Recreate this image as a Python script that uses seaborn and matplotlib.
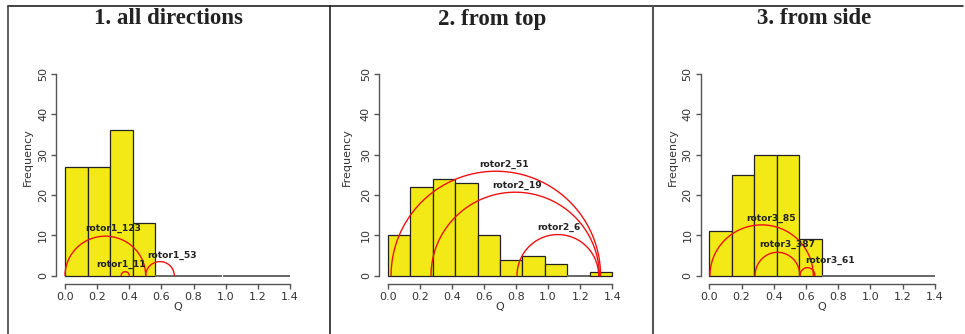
import numpy as np
import pandas as pd
import matplotlib
matplotlib.use("Agg")
import matplotlib.pyplot as plt
from matplotlib.lines import Line2D
import seaborn as sns

# ---- data ----
titles = ["1. all directions", "2. from top", "3. from side"]
bin_edges = [0.0, 0.14, 0.28, 0.42, 0.56, 0.70, 0.84, 0.98, 1.12, 1.26, 1.40]
counts_1 = [27, 27, 36, 13, 0, 0, 0, 0, 0, 0]
counts_2 = [10, 22, 24, 23, 10, 4, 5, 3, 0, 1]
counts_3 = [11, 25, 30, 30, 9, 0, 0, 0, 0, 0]

# arcs: name, start Q, end Q, height, label x, label y
arc_names_1 = ["rotor1_123", "rotor1_11", "rotor1_53"]
arc_start_1 = [0.0, 0.349, 0.502]
arc_end_1 = [0.502, 0.400, 0.680]
arc_height_1 = [9.8, 1.0, 3.5]
label_x_1 = [0.30, 0.347, 0.668]
label_y_1 = [11.6, 2.9, 5.1]

arc_names_2 = ["rotor2_51", "rotor2_19", "rotor2_6"]
arc_start_2 = [0.021, 0.270, 0.806]
arc_end_2 = [1.327, 1.319, 1.315]
arc_height_2 = [25.9, 20.7, 10.2]
label_x_2 = [0.725, 0.808, 1.068]
label_y_2 = [27.5, 22.5, 12.0]

arc_names_3 = ["rotor3_85", "rotor3_387", "rotor3_61"]
arc_start_3 = [0.004, 0.284, 0.563]
arc_end_3 = [0.646, 0.563, 0.656]
arc_height_3 = [12.6, 5.8, 2.0]
label_x_3 = [0.383, 0.487, 0.75]
label_y_3 = [14.2, 7.8, 3.7]

x_ticks = [0.0, 0.2, 0.4, 0.6, 0.8, 1.0, 1.2, 1.4]
y_ticks = [0, 10, 20, 30, 40, 50]

# ---- styling / layout ----
sns.set_style("white")
plt.rcParams["font.family"] = ["DejaVu Sans"]

W, H = 965, 334
fig = plt.figure(figsize=(W / 100, H / 100), dpi=100)

panels = [
    (counts_1, arc_names_1, arc_start_1, arc_end_1, arc_height_1, label_x_1, label_y_1),
    (counts_2, arc_names_2, arc_start_2, arc_end_2, arc_height_2, label_x_2, label_y_2),
    (counts_3, arc_names_3, arc_start_3, arc_end_3, arc_height_3, label_x_3, label_y_3),
]
ax_left_px = [65, 387.7, 709.3]
ax_right_px = [290, 612.3, 934.7]
title_cx = [168, 491.7, 814]
ylab_x = [28, 347, 673]
y0_px, y50_px = 275.7, 74

bin_centers = [(a + b) / 2 for a, b in zip(bin_edges[:-1], bin_edges[1:])]
axis_col = "#555555"
text_col = "#333333"

for i, (counts, names, starts, ends, heights, lx, ly) in enumerate(panels):
    l = ax_left_px[i] / W
    w = (ax_right_px[i] - ax_left_px[i]) / W
    b = (H - y0_px) / H
    h = (y0_px - y50_px) / H
    ax = fig.add_axes([l, b, w, h])
    df = pd.DataFrame({"Q": bin_centers, "n": counts})
    sns.histplot(data=df, x="Q", weights="n", bins=bin_edges, ax=ax,
                 color="#f2e916", alpha=1.0, edgecolor="#222222", linewidth=0.9)
    for p in ax.patches:
        p.set_clip_on(False)
        if p.get_height() == 0:
            p.set_edgecolor("#666666")
            p.set_linewidth(1.4)
    ax.set_xlim(0, 1.4)
    ax.set_ylim(0, 50)
    for nm, s, e, hh, tx, ty in zip(names, starts, ends, heights, lx, ly):
        t = np.linspace(0, np.pi, 200)
        c = (s + e) / 2
        r = (e - s) / 2
        ax.plot(c + r * np.cos(t), hh * np.sin(t), color="#ee1111", lw=1.0, clip_on=False)
        ax.text(tx, ty, nm, ha="center", va="center", fontsize=6.6,
                fontweight="bold", color="#222222")
    for side in ["top", "right"]:
        ax.spines[side].set_visible(False)
    ax.spines["left"].set_position(("outward", 6.2))
    ax.spines["bottom"].set_position(("outward", 6.0))
    ax.spines["left"].set_bounds(0, 50)
    ax.spines["bottom"].set_bounds(0, 1.4)
    for sp in ["left", "bottom"]:
        ax.spines[sp].set_color(axis_col)
        ax.spines[sp].set_linewidth(1.0)
    ax.set_xticks(x_ticks)
    ax.set_xticklabels([f"{v:.1f}" for v in x_ticks])
    ax.set_yticks(y_ticks)
    ax.set_yticklabels([str(v) for v in y_ticks], rotation=90, va="center")
    ax.tick_params(axis="both", direction="out", length=3.5, width=1.0,
                   color=axis_col, labelsize=8, labelcolor=text_col, pad=2.5)
    ax.tick_params(axis="x", bottom=True)
    ax.tick_params(axis="y", left=True)
    ax.set_xlabel("Q", fontsize=8, color=text_col, labelpad=0)
    ax.set_ylabel("")
    ax.patch.set_alpha(0)
    fig.text(ylab_x[i] / W, 1 - 157 / H, "Frequency", rotation=90,
             ha="center", va="center", fontsize=8, color=text_col)
    fig.text(title_cx[i] / W, 1 - 24.5 / H, titles[i], ha="center", va="baseline",
             fontsize=16.5, fontweight="bold", family=["Liberation Serif"],
             color="#222222")

# frame lines
def fline(x0, y0, x1, y1, col="#222222", lw=1.2):
    fig.add_artist(Line2D([x0 / W, x1 / W], [1 - y0 / H, 1 - y1 / H],
                          color=col, lw=lw, transform=fig.transFigure))

fline(8, 6, 963, 6)
fline(8, 6, 8, 334, col="#444444")
fline(330, 6, 330, 334)
fline(653, 6, 653, 334, col="#555555", lw=1.5)

fig.savefig("out.png", dpi=100)
